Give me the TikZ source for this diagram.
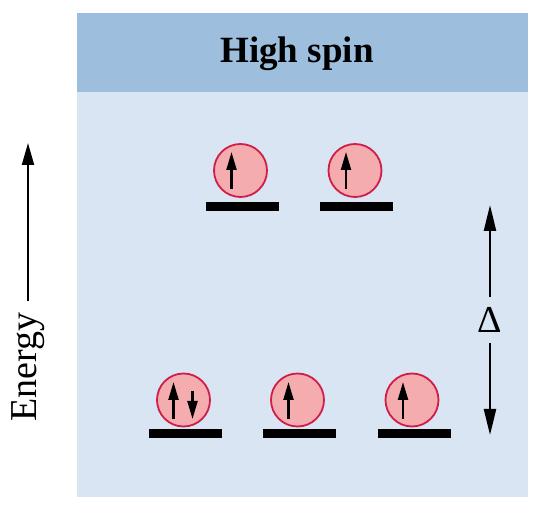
\documentclass[tikz,border=0pt]{standalone}
\usepackage{fontspec}
\setmainfont{Liberation Serif}
\usepackage{tikz}
\usetikzlibrary{arrows.meta}
\definecolor{HeadBlue}{RGB}{158,190,221}
\definecolor{PanelBlue}{RGB}{217,229,242}
\definecolor{OrbPink}{RGB}{245,172,174}
\definecolor{OrbRim}{RGB}{208,30,72}
\tikzset{
 orb/.style={circle,minimum size=53pt,inner sep=0pt,fill=OrbPink,draw=OrbRim,line width=1.8pt},
 lvl/.style={rectangle,minimum width=73pt,minimum height=9pt,inner sep=0pt,fill=black},
 spin/.style={line width=2.2pt,-{Triangle[length=18pt,width=10pt]}},
 gaparrow/.style={line width=2.4pt,-{Triangle[length=26pt,width=12pt]}},
}

\begin{document}
\begin{tikzpicture}[x=1pt,y=-1pt]
\useasboundingbox (0,0) rectangle (539,513);
\fill[PanelBlue] (77,92) rectangle (528,497); \fill[HeadBlue] (77,13) rectangle (528,92);
\node[anchor=base,font=\bfseries\fontsize{37}{40}\selectfont] (title) at (297,63) {High spin};
\node[lvl] (t1) at (242,206.5) {}; \node[lvl] (t2) at (356,206.5) {};
\node[orb] (u1) at (240.5,170.5) {}; \node[orb] (u2) at (355,170.5) {};
\draw[spin] (u1.center) ++(-9,18.5) -- ++(0,-37); \draw[spin] (u2.center) ++(-9,18.5) -- ++(0,-37);
\node[lvl] (b1) at (185,434) {}; \node[lvl] (b2) at (299,434) {}; \node[lvl] (b3) at (414,434) {};
\node[orb] (l1) at (183.5,400) {}; \node[orb] (l2) at (297.5,400) {}; \node[orb] (l3) at (412,400) {};
\draw[spin] (l1.center) ++(-10,19) -- ++(0,-37); \draw[spin] (l1.center) ++(9,-9) -- ++(0,28);
\draw[spin] (l2.center) ++(-9,19) -- ++(0,-37); \draw[spin] (l3.center) ++(-9,19) -- ++(0,-37);
\node[inner sep=10pt,font=\fontsize{38}{40}\selectfont] (delta) at (490,320) {Δ};
\coordinate (dtop) at (490,205); \coordinate (dbot) at (490,435);
\draw[gaparrow] (delta.north) -- (dtop); \draw[gaparrow] (delta.south) -- (dbot);
\node[rotate=90,inner sep=11pt,font=\fontsize{38}{40}\selectfont] (energy) at (28,367) {Energy};
\coordinate (etop) at (28,143);
\draw[line width=2pt,-{Triangle[length=22pt,width=12pt]}] (energy.east) -- (etop);
\end{tikzpicture}
\end{document}
